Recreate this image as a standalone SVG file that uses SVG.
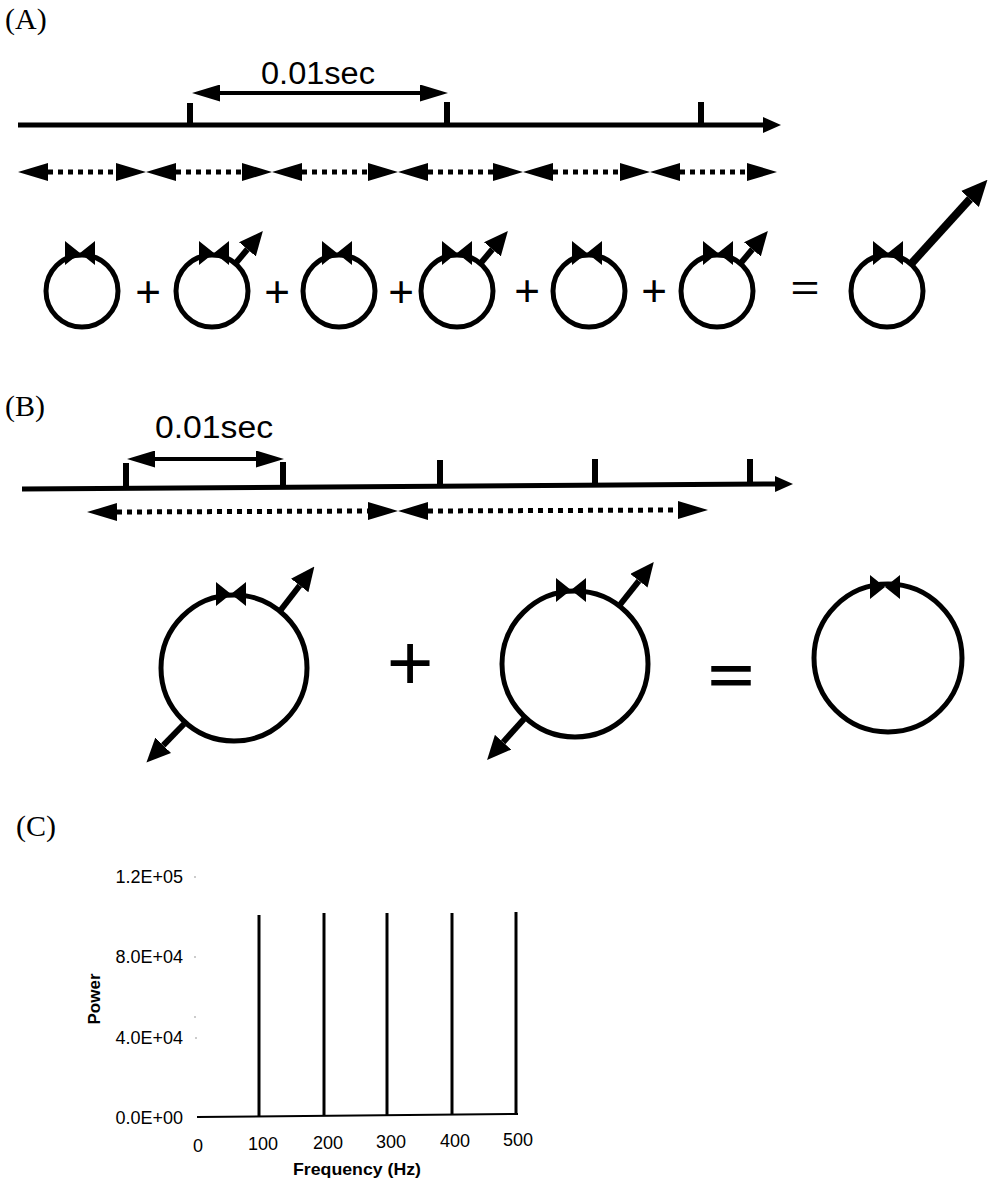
<svg xmlns="http://www.w3.org/2000/svg" width="988" height="1178" viewBox="0 0 988 1178">
<style>
.ln{stroke:#000;fill:none}
.tl{stroke:#000;stroke-width:5;fill:none}
.dot{stroke:#000;stroke-width:5;stroke-dasharray:5 5;fill:none}
.circ{stroke:#000;stroke-width:5;fill:none}
.bt{fill:#000;stroke:none}
.lab{font-family:"Liberation Serif",serif;font-size:30px;fill:#000}
.sec{font-family:"Liberation Sans",Arial,sans-serif;font-size:31px;fill:#000;text-anchor:middle}
.op{font-family:"Liberation Sans",Arial,sans-serif;fill:#000;text-anchor:middle}
.ax{font-family:"Liberation Sans",Arial,sans-serif;font-size:18px;fill:#000}
.axb{font-family:"Liberation Sans",Arial,sans-serif;font-size:17px;font-weight:bold;fill:#000;text-anchor:middle}
</style>
<defs>
<marker id="tah" viewBox="0 0 18 16" refX="0" refY="8" markerWidth="18" markerHeight="16" markerUnits="userSpaceOnUse" orient="auto"><path d="M0,0 L18,8 L0,16 z" fill="#000"/></marker>
<marker id="dah" viewBox="0 0 30 18" refX="0" refY="9" markerWidth="30" markerHeight="18" markerUnits="userSpaceOnUse" orient="auto-start-reverse"><path d="M0,0 L30,9 L0,18 z" fill="#000"/></marker>
<marker id="pah" viewBox="0 0 28 17" refX="0" refY="8.5" markerWidth="28" markerHeight="17" markerUnits="userSpaceOnUse" orient="auto-start-reverse"><path d="M0,0 L28,8.5 L0,17 z" fill="#000"/></marker>
<marker id="cah" viewBox="0 0 24 22" refX="0" refY="11" markerWidth="24" markerHeight="22" markerUnits="userSpaceOnUse" orient="auto"><path d="M0,0 L24,11 L0,22 z" fill="#000"/></marker>
<marker id="bah" viewBox="0 0 26 24" refX="0" refY="12" markerWidth="26" markerHeight="24" markerUnits="userSpaceOnUse" orient="auto"><path d="M0,0 L26,12 L0,24 z" fill="#000"/></marker>
<path id="bow" d="M-15,-12 L0,0 L-15,12 Z M15,-12 L0,0 L15,12 Z"/>
</defs>

<!-- Panel A -->
<g id="panelA-label"><text class="lab" x="5" y="29">(A)</text></g>
<g id="A-timeline">
  <line class="tl" x1="18" y1="125" x2="763" y2="125" marker-end="url(#tah)"/>
  <rect x="187" y="103" width="6" height="22" fill="#000"/>
  <rect x="444" y="102" width="6" height="23" fill="#000"/>
  <rect x="698" y="102" width="6" height="23" fill="#000"/>
</g>
<g id="A-period">
  <text class="sec" x="318" y="84" textLength="114" lengthAdjust="spacingAndGlyphs">0.01sec</text>
  <line x1="220" y1="93" x2="420" y2="93" stroke="#000" stroke-width="4" marker-start="url(#pah)" marker-end="url(#pah)"/>
</g>
<g id="A-windows">
  <line class="dot" x1="48" y1="172" x2="116" y2="172" marker-start="url(#dah)" marker-end="url(#dah)"/>
  <line class="dot" x1="176" y1="172" x2="242" y2="172" marker-start="url(#dah)" marker-end="url(#dah)"/>
  <line class="dot" x1="302" y1="172" x2="368" y2="172" marker-start="url(#dah)" marker-end="url(#dah)"/>
  <line class="dot" x1="428" y1="172" x2="493" y2="172" marker-start="url(#dah)" marker-end="url(#dah)"/>
  <line class="dot" x1="553" y1="172" x2="620" y2="172" marker-start="url(#dah)" marker-end="url(#dah)"/>
  <line class="dot" x1="680" y1="172" x2="747" y2="172" marker-start="url(#dah)" marker-end="url(#dah)"/>
</g>
<g id="A-c1"><circle class="circ" cx="82" cy="291" r="36"/><use href="#bow" class="bt" x="80" y="253"/></g>
<g id="A-c2"><circle class="circ" cx="212" cy="291" r="36"/><use href="#bow" class="bt" x="214" y="253"/>
  <line class="ln" stroke-width="6" x1="235" y1="264" x2="247.4" y2="249.3" marker-end="url(#cah)"/></g>
<g id="A-c3"><circle class="circ" cx="339" cy="291" r="36"/><use href="#bow" class="bt" x="337" y="253"/></g>
<g id="A-c4"><circle class="circ" cx="457" cy="291" r="36"/><use href="#bow" class="bt" x="457" y="253"/>
  <line class="ln" stroke-width="6" x1="480" y1="264" x2="492.4" y2="249.3" marker-end="url(#cah)"/></g>
<g id="A-c5"><circle class="circ" cx="589" cy="291" r="36"/><use href="#bow" class="bt" x="587" y="253"/></g>
<g id="A-c6"><circle class="circ" cx="717" cy="291" r="36"/><use href="#bow" class="bt" x="718" y="253"/>
  <line class="ln" stroke-width="6" x1="740" y1="264" x2="752.4" y2="249.3" marker-end="url(#cah)"/></g>
<g id="A-result"><circle class="circ" cx="887" cy="291" r="36"/><use href="#bow" class="bt" x="888" y="253"/>
  <line class="ln" stroke-width="8" x1="911" y1="264" x2="970" y2="199" marker-end="url(#bah)"/></g>
<g id="A-ops">
  <text class="op" font-size="44" x="148" y="307">+</text>
  <text class="op" font-size="44" x="277" y="307">+</text>
  <text class="op" font-size="44" x="401" y="307">+</text>
  <text class="op" font-size="44" x="527" y="306">+</text>
  <text class="op" font-size="44" x="654" y="306">+</text>
  <text class="op" font-size="36" x="805" y="300" textLength="29" lengthAdjust="spacingAndGlyphs">=</text>
</g>

<!-- Panel B -->
<g id="panelB-label"><text class="lab" x="5" y="416">(B)</text></g>
<g id="B-timeline">
  <line class="tl" x1="22" y1="489" x2="775" y2="484" marker-end="url(#tah)"/>
  <rect x="123" y="463" width="6" height="26" fill="#000"/>
  <rect x="280" y="462" width="6" height="26" fill="#000"/>
  <rect x="437" y="460" width="6" height="27" fill="#000"/>
  <rect x="592" y="459" width="6" height="27" fill="#000"/>
  <rect x="747" y="459" width="6" height="26" fill="#000"/>
</g>
<g id="B-period">
  <text class="sec" x="214" y="438" textLength="118" lengthAdjust="spacingAndGlyphs">0.01sec</text>
  <line x1="155" y1="459" x2="256" y2="459" stroke="#000" stroke-width="4" marker-start="url(#pah)" marker-end="url(#pah)"/>
</g>
<g id="B-windows">
  <line class="dot" x1="117" y1="512" x2="368" y2="511" marker-start="url(#dah)" marker-end="url(#dah)"/>
  <line class="dot" x1="428" y1="511" x2="678" y2="510" marker-start="url(#dah)" marker-end="url(#dah)"/>
</g>
<g id="B-c1"><circle class="circ" cx="234" cy="668" r="73"/><use href="#bow" class="bt" x="231" y="594"/>
  <line class="ln" stroke-width="6" x1="280" y1="611" x2="299.7" y2="585.5" marker-end="url(#cah)"/>
  <line class="ln" stroke-width="6" x1="184" y1="724" x2="163.2" y2="745.3" marker-end="url(#cah)"/></g>
<g id="B-c2"><circle class="circ" cx="575" cy="664" r="73"/><use href="#bow" class="bt" x="571" y="590"/>
  <line class="ln" stroke-width="6" x1="619" y1="606" x2="638.9" y2="580.8" marker-end="url(#cah)"/>
  <line class="ln" stroke-width="6" x1="524" y1="719" x2="503.1" y2="742.2" marker-end="url(#cah)"/></g>
<g id="B-result"><circle class="circ" cx="888" cy="658" r="74"/><use href="#bow" class="bt" x="885" y="587"/></g>
<g id="B-ops">
  <text class="op" font-size="80" x="410" y="690">+</text>
  <text class="op" font-size="52" font-weight="bold" x="731" y="693" textLength="46" lengthAdjust="spacingAndGlyphs">=</text>
</g>

<!-- Panel C -->
<g id="panelC-label"><text class="lab" x="16" y="836">(C)</text></g>
<g id="C-yaxis">
  <text class="ax" text-anchor="end" x="183" y="883">1.2E+05</text>
  <text class="ax" text-anchor="end" x="183" y="963">8.0E+04</text>
  <text class="ax" text-anchor="end" x="183" y="1044">4.0E+04</text>
  <text class="ax" text-anchor="end" x="183" y="1124">0.0E+00</text>
  <g fill="#bbb"><circle cx="195" cy="877" r="1"/><circle cx="195" cy="957" r="1"/><circle cx="195" cy="1017" r="1"/><circle cx="196" cy="1038" r="1"/></g>
  <text class="axb" transform="translate(100,999) rotate(-90)" x="0" y="0">Power</text>
</g>
<g id="C-plot">
  <line class="ln" stroke-width="2" x1="197" y1="1117" x2="518" y2="1114"/>
  <g class="ln" stroke-width="3">
    <line x1="259" y1="915" x2="259" y2="1117"/>
    <line x1="324" y1="913" x2="324" y2="1116"/>
    <line x1="387" y1="913" x2="387" y2="1116"/>
    <line x1="452" y1="913" x2="452" y2="1115"/>
    <line x1="516" y1="912" x2="516" y2="1114"/>
  </g>
</g>
<g id="C-xaxis">
  <text class="ax" text-anchor="middle" x="198" y="1152">0</text>
  <text class="ax" text-anchor="middle" x="263" y="1150">100</text>
  <text class="ax" text-anchor="middle" x="328" y="1149">200</text>
  <text class="ax" text-anchor="middle" x="391" y="1148">300</text>
  <text class="ax" text-anchor="middle" x="455" y="1147">400</text>
  <text class="ax" text-anchor="middle" x="518" y="1146">500</text>
  <text class="axb" x="357" y="1175" textLength="128" lengthAdjust="spacingAndGlyphs">Frequency (Hz)</text>
</g>
</svg>
